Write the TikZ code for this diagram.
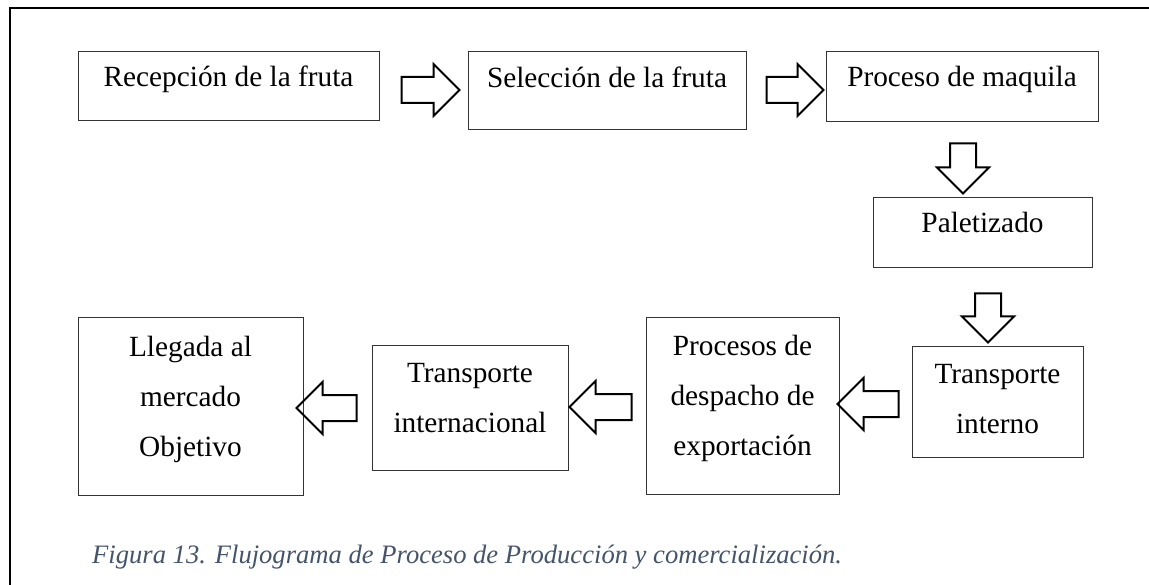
\documentclass[tikz,border=0pt]{standalone}
\usepackage{fontspec}
\setmainfont{Liberation Serif}
\usetikzlibrary{shapes.arrows}
\definecolor{gristitulo}{HTML}{44546A}
\newcommand{\puntal}{\rule[-21pt]{0pt}{41pt}}

\begin{document}
\begin{tikzpicture}
  [x=1pt,y=-1pt,
   caja/.style={draw=black!80, line width=1pt, align=center, inner sep=0pt,
     font=\fontsize{29.3}{50}\selectfont,
     execute at begin node=\puntal, execute at end node=\puntal},
   flecha/.style={draw, line width=2pt, single arrow, single arrow head extend=13pt,
     inner xsep=0pt, inner ysep=12pt},
   flechav/.style={flecha, inner xsep=12pt, inner ysep=0pt}]
  \useasboundingbox (0,0) rectangle (1149,585);
  % marco
  \draw[line width=2.5pt] (10,585) -- (10,8) -- (1149,8);

  \node[caja, minimum width=301pt, minimum height=69pt]  (recepcion) at (228.5,86.5) {Recepción de la fruta};
  \node[caja, minimum width=278pt, minimum height=78pt]  (seleccion) at (607,91)     {Selección de la fruta\rule[-27pt]{0pt}{0pt}};
  \node[caja, minimum width=272pt, minimum height=70pt]  (maquila)   at (962,87)     {Proceso de maquila};
  \node[caja, minimum width=219pt, minimum height=70pt]  (paletizado) at (982.5,233) {Paletizado};
  \node[caja, minimum width=171pt, minimum height=110pt] (interno)   at (997.5,402)  {\rule{0pt}{33pt}Transporte\\interno};
  \node[caja, minimum width=193pt, minimum height=176pt] (despacho)  at (742.5,406)  {Procesos de\\despacho de\\exportación};
  \node[caja, minimum width=196pt, minimum height=124pt] (internac)  at (470,408)    {Transporte\\internacional};
  \node[caja, minimum width=225pt, minimum height=177pt] (llegada)   at (190.5,406.5) {Llegada al\\mercado\\Objetivo};

  % flechas de bloque
  \foreach \n/\x/\y/\l/\r/\s in {f1/424/90/58/0/flecha, f2/788.5/90/57/0/flecha,
      f3/963/162/50/270/flechav, f4/988/311.5/49/270/flechav,
      f5/874.5/404/61/180/flecha, f6/607/407/62/180/flecha, f7/333/408/60/180/flecha}
    \node[\s, minimum height=\l pt, shape border rotate=\r] (\n) at (\x,\y) {};

  \node[anchor=base west, inner sep=0pt, text=gristitulo, font=\fontsize{26.6}{32}\selectfont\itshape]
    (titulo) at (92,563) {Figura 13. Flujograma de Proceso de Producción y comercialización.};
\end{tikzpicture}
\end{document}
